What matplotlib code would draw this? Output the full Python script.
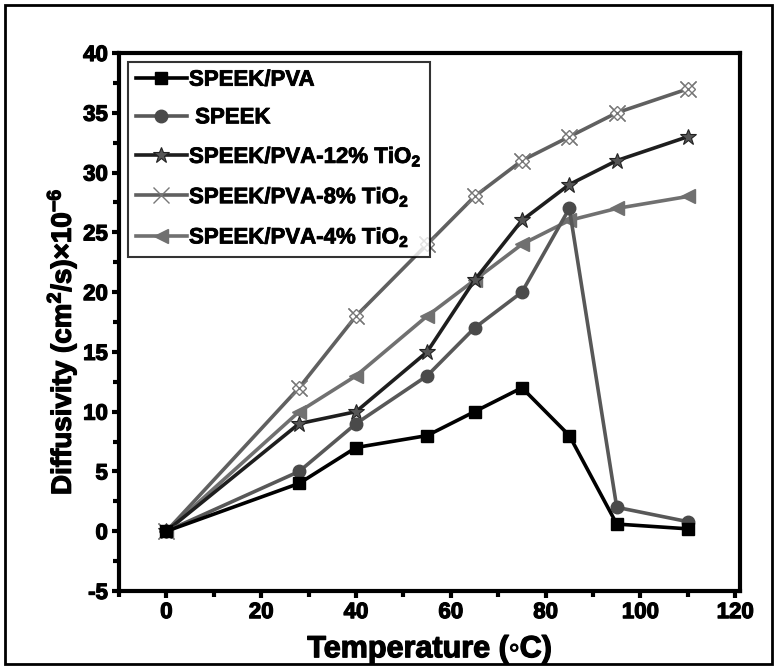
import matplotlib as mpl
mpl.use('Agg')
import matplotlib.pyplot as plt
import matplotlib.patheffects as pe
from matplotlib.ticker import MultipleLocator
from matplotlib.patches import Rectangle

plt.rcParams['font.family'] = ['Liberation Sans', 'DejaVu Sans']
plt.rcParams['font.weight'] = 'bold'
plt.rcParams['mathtext.fontset'] = 'custom'
plt.rcParams['mathtext.bf'] = 'Liberation Sans:bold'
plt.rcParams['mathtext.rm'] = 'Liberation Sans:bold'
plt.rcParams['mathtext.default'] = 'bf'
plt.rcParams['axes.unicode_minus'] = False

temps = [0, 28, 40, 55, 65, 75, 85, 95, 110]
speek_pva = [0, 4, 7, 8, 10, 12, 8, 0.6, 0.2]
speek = [0, 5, 9, 13, 17, 20, 27, 2, 0.8]
tio2_12 = [0, 9, 10, 15, 21, 26, 29, 31, 33]
tio2_8 = [0, 12, 18, 24, 28, 31, 33, 35, 37]
tio2_4 = [0, 10, 13, 18, 21, 24, 26, 27, 28]

labels = ['SPEEK/PVA', ' SPEEK', 'SPEEK/PVA-12% TiO$_2$',
          'SPEEK/PVA-8% TiO$_2$', 'SPEEK/PVA-4% TiO$_2$']

fig = plt.figure(figsize=(7.77, 6.69), dpi=100)
ax = fig.add_axes([119/777, 78/669, 621/777, 538/669])

lw = 2.6
ax.plot(temps, speek_pva, color='black', lw=lw, marker='s', ms=8,
        mfc='black', mec='black', label=labels[0], zorder=6)
ax.plot(temps, speek, color='#585858', lw=lw, marker='o', ms=9,
        mfc='#4a4a4a', mec='#4a4a4a', label=labels[1], zorder=5)
ax.plot(temps, tio2_12, color='#1e1e1e', lw=lw, marker='*', ms=12,
        mfc='#555555', mec='#222222', mew=0.8, label=labels[2], zorder=4)
ax.plot(temps, tio2_8, color='#606060', lw=lw, marker='x', ms=12,
        mec='#777777', mew=1.0, label=labels[3], zorder=3)
ax.plot(temps, tio2_8, ls='none', marker='D', ms=7, mfc='white',
        mec='#777777', mew=1.0, zorder=3)
ax.plot(temps, tio2_8, ls='none', marker='x', ms=12, mec='#777777',
        mew=1.0, zorder=3)
ax.plot(temps, tio2_4, color='#707070', lw=lw, marker='<', ms=10,
        mfc='#707070', mec='#707070', label=labels[4], zorder=2)

ax.set_xlim(-10, 121)
ax.set_ylim(-5, 40)
ax.xaxis.set_major_locator(MultipleLocator(20))
ax.xaxis.set_minor_locator(MultipleLocator(10))
ax.yaxis.set_major_locator(MultipleLocator(5))
ax.yaxis.set_minor_locator(MultipleLocator(2.5))

for s in ax.spines.values():
    s.set_linewidth(3)
ax.tick_params(which='major', direction='out', length=5, width=3,
               labelsize=16, top=False, right=False, pad=3)
ax.tick_params(which='minor', direction='out', length=4, width=3,
               top=False, right=False)
heavy = [pe.withStroke(linewidth=0.9, foreground='black')]
fig.canvas.draw()
for t in ax.get_xticklabels() + ax.get_yticklabels():
    t.set_path_effects(heavy)

ax.set_xlabel('Temperature (\u25e6C)', fontsize=22, fontweight='bold', labelpad=8,
              path_effects=heavy)
ax.set_ylabel('Diffusivity (cm$^2$/s)\u00d710$^{-6}$', fontsize=20,
              fontweight='bold', path_effects=heavy)
ax.yaxis.label.set_verticalalignment('center')
ax.yaxis.set_label_coords(-0.092, 0.463)

leg = ax.legend(loc='upper left', bbox_to_anchor=(0.0, 1.0), borderaxespad=0.4,
                fontsize=16, frameon=True, fancybox=False, handlelength=2.3,
                handletextpad=0.1, borderpad=0.35, labelspacing=0.75)
leg.get_frame().set_edgecolor('black')
leg.get_frame().set_linewidth(1.5)
for t in leg.get_texts():
    t.set_fontweight('bold')
    t.set_path_effects([pe.withStroke(linewidth=0.6, foreground='black')])

fig.patches.append(Rectangle((5/777, 5/669), 767/777, 659/669,
                             transform=fig.transFigure, fill=False,
                             edgecolor='black', lw=2))

fig.savefig('out.png', dpi=100)
